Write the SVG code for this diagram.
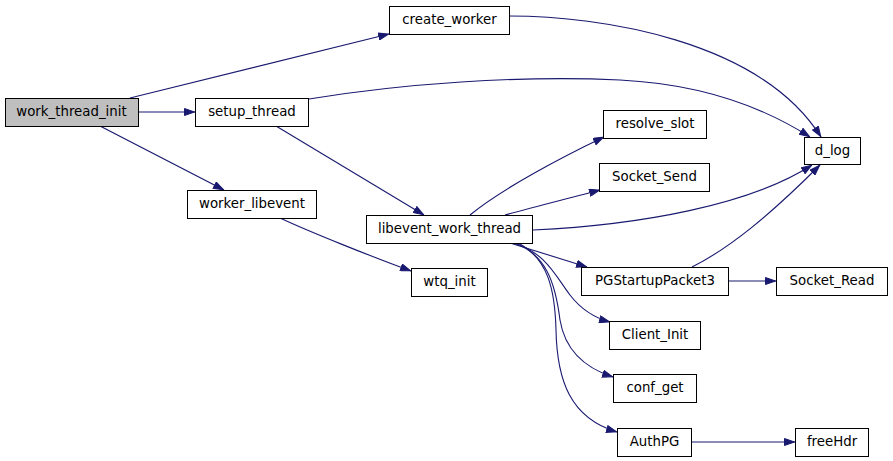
<svg xmlns="http://www.w3.org/2000/svg" width="893" height="461" viewBox="0 0 893 461">
<style>
.n rect{fill:#fff;stroke:#000;stroke-width:1}
.n text{font-family:"DejaVu Sans",sans-serif;font-size:13.33px;text-anchor:middle;fill:#000}
#edges path{fill:none;stroke:#191970;stroke-width:1.1;marker-end:url(#ah)}
</style>
<defs>
<marker id="ah" viewBox="0 0 11 8" refX="11" refY="4" markerWidth="11" markerHeight="8" markerUnits="userSpaceOnUse" orient="auto">
<path d="M0.5,0.5 L10.5,4 L0.5,7.5 z" fill="#191970" stroke="#191970" stroke-width="1"/>
</marker>
</defs>
<rect width="893" height="461" fill="#fff"/>
<g id="edges">
<path d="M130,98 L389,34"/>
<path d="M138,112 L195,112"/>
<path d="M100,126 L224,190"/>
<path d="M309,99 C400,84 520,75 620,80 C700,84 760,105 810,137"/>
<path d="M509,16 C600,16 760,40 821,137"/>
<path d="M276,126 L424,215"/>
<path d="M280,218 C310,232 370,256 411,271"/>
<path d="M470,215 C500,190 560,158 604,137"/>
<path d="M505,215 C530,208 570,198 600,190"/>
<path d="M533,230 C640,225 750,205 812,165"/>
<path d="M692,267 C730,248 770,215 820,165"/>
<path d="M510,243 L587,267"/>
<path d="M513,243 C545,252 555,275 570,295 C580,308 595,318 610,322"/>
<path d="M515,243 C545,255 555,280 560,320 C565,350 585,368 613,377"/>
<path d="M518,243 C548,258 555,290 556,330 C557,380 570,418 617,432"/>
<path d="M728,281 L776,281"/>
<path d="M691,442 L795,442"/>
</g>
<g id="work_thread_init" class="n"><rect x="5.5" y="98.5" width="133" height="28" style="fill:#bfbfbf"/><text x="71.5" y="116">work_thread_init</text></g>
<g id="setup_thread" class="n"><rect x="195.5" y="98.5" width="113" height="28"/><text x="252" y="116">setup_thread</text></g>
<g id="worker_libevent" class="n"><rect x="187.5" y="190.5" width="129" height="28"/><text x="252" y="208">worker_libevent</text></g>
<g id="create_worker" class="n"><rect x="389.5" y="6.5" width="120" height="28"/><text x="449.5" y="24">create_worker</text></g>
<g id="libevent_work_thread" class="n"><rect x="366.5" y="215.5" width="166" height="28"/><text x="449.5" y="233">libevent_work_thread</text></g>
<g id="resolve_slot" class="n"><rect x="603.5" y="110.5" width="103" height="28"/><text x="655" y="128">resolve_slot</text></g>
<g id="Socket_Send" class="n"><rect x="599.5" y="163.5" width="110" height="28"/><text x="654.5" y="181">Socket_Send</text></g>
<g id="d_log" class="n"><rect x="804.5" y="137.5" width="56" height="27"/><text x="832.5" y="155">d_log</text></g>
<g id="wtq_init" class="n"><rect x="411.5" y="268.5" width="76" height="28"/><text x="449.5" y="286">wtq_init</text></g>
<g id="PGStartupPacket3" class="n"><rect x="581.5" y="267.5" width="147" height="28"/><text x="655" y="285">PGStartupPacket3</text></g>
<g id="Socket_Read" class="n"><rect x="776.5" y="267.5" width="111" height="28"/><text x="832" y="285">Socket_Read</text></g>
<g id="Client_Init" class="n"><rect x="609.5" y="321.5" width="91" height="28"/><text x="655" y="339">Client_Init</text></g>
<g id="conf_get" class="n"><rect x="613.5" y="374.5" width="83" height="28"/><text x="655" y="392">conf_get</text></g>
<g id="AuthPG" class="n"><rect x="617.5" y="428.5" width="74" height="28"/><text x="654.5" y="446">AuthPG</text></g>
<g id="freeHdr" class="n"><rect x="795.5" y="428.5" width="73" height="28"/><text x="832" y="446">freeHdr</text></g>
</svg>
